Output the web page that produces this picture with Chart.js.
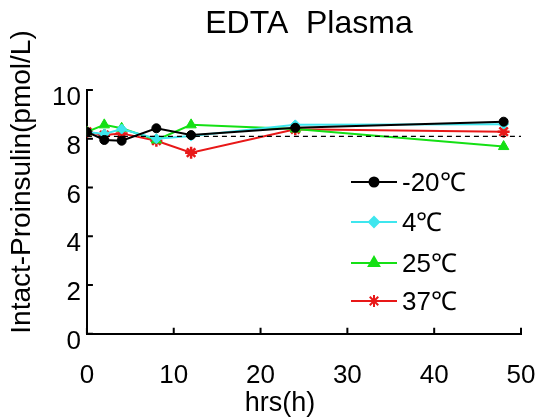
<!DOCTYPE html>
<html>
<head>
<meta charset="utf-8">
<script src="https://cdn.jsdelivr.net/npm/chart.js@4"></script>
<style>
  body { margin: 0; background: #fff; }
  #wrap { width: 545px; height: 420px; }
</style>
</head>
<body>
<div id="wrap"><canvas id="myChart" width="545" height="420"></canvas></div>
<script>
'use strict';

// sampling times (hours)
let hours = [0, 2, 4, 8, 12, 24, 48];
// series values, pmol/L
let minus20 = [8.28, 7.95, 7.92, 8.43, 8.15, 8.45, 8.70];
let plus4 = [8.28, 8.20, 8.40, 8.00, 8.11, 8.57, 8.60];
let plus25 = [8.28, 8.57, 8.43, 7.95, 8.57, 8.40, 7.68];
let plus37 = [8.28, 8.15, 8.22, 7.92, 7.43, 8.39, 8.29];
let seriesNames = ['-20℃', '4℃', '25℃', '37℃'];
let refLevel = 8.1;
let xTicks = [0, 10, 20, 30, 40, 50];
let yTicks = [0, 2, 4, 6, 8, 10];

let chartTitle = 'EDTA  Plasma';
let xTitle = 'hrs(h)';
let yTitle = 'Intact-Proinsulin(pmol/L)';

let fontName = '"Liberation Sans", Arial, sans-serif';

function toPoints(values) {
    let pts = [];
    for (let i = 0; i < hours.length; i++) {
        pts.push({ x: hours[i], y: values[i] });
    }
    return pts;
}

let colors = ['#000000', '#3ee6ee', '#14e014', '#e81818'];
let shapes = ['circle', 'rectRot', 'triangle', 'star'];
let sizes = [4.5, 5, 6, 6];
let allValues = [minus20, plus4, plus25, plus37];

let datasets = [];
for (let i = 0; i < allValues.length; i++) {
    datasets.push({
        label: seriesNames[i],
        data: toPoints(allValues[i]),
        borderColor: colors[i],
        backgroundColor: colors[i],
        pointStyle: shapes[i],
        pointRadius: sizes[i],
        pointBorderWidth: i === 3 ? 2.5 : 1,
        borderWidth: 2,
        tension: 0
    });
}
// dashed reference line
datasets.push({
    label: 'ref',
    data: [{ x: 0, y: refLevel }, { x: 50.4, y: refLevel }],
    borderColor: '#000',
    borderWidth: 1.2,
    borderDash: [5, 4],
    pointRadius: 0
});
// draw the reference first so the series sit on top
datasets.unshift(datasets.pop());

// titles, legend and inward tick marks
let extras = {
    id: 'extras',
    afterDraw(chart) {
        let ctx = chart.ctx;
        let xs = chart.scales.x;
        let ys = chart.scales.y;
        let area = chart.chartArea;
        ctx.save();
        ctx.strokeStyle = '#000';
        ctx.lineWidth = 2;
        ctx.beginPath();
        for (let v of xTicks) {
            let px = xs.getPixelForValue(v);
            ctx.moveTo(px, area.bottom);
            ctx.lineTo(px, area.bottom - 6);
        }
        for (let v of yTicks) {
            let py = ys.getPixelForValue(v);
            ctx.moveTo(area.left, py);
            ctx.lineTo(area.left + 6, py);
        }
        ctx.stroke();

        ctx.fillStyle = '#000';
        ctx.textAlign = 'center';
        ctx.textBaseline = 'middle';
        ctx.font = '32px ' + fontName;
        ctx.fillText(chartTitle, 309, 24);
        ctx.font = '27px ' + fontName;
        ctx.fillText(xTitle, 280, 404);
        ctx.save();
        ctx.translate(22, 182);
        ctx.rotate(-Math.PI / 2);
        ctx.font = '28px ' + fontName;
        ctx.fillText(yTitle, 0, 0);
        ctx.restore();

        // legend
        ctx.textAlign = 'left';
        ctx.font = '26px ' + fontName;
        let rowY = [182, 222, 263, 301];
        for (let i = 0; i < seriesNames.length; i++) {
            let ds = chart.data.datasets[i + 1];
            ctx.strokeStyle = ds.borderColor;
            ctx.lineWidth = 2;
            ctx.beginPath();
            ctx.moveTo(351, rowY[i]);
            ctx.lineTo(397, rowY[i]);
            ctx.stroke();
            Chart.helpers.drawPoint(ctx, {
                pointStyle: ds.pointStyle,
                radius: ds.pointRadius,
                rotation: 0,
                borderWidth: ds.pointBorderWidth
            }, 374, rowY[i]);
            ctx.fillStyle = ds.borderColor;
            ctx.fill();
            ctx.fillStyle = '#000';
            ctx.fillText(seriesNames[i], 402, rowY[i] + 2);
        }
        ctx.restore();
    }
};

let ctx = document.getElementById('myChart').getContext('2d');
let chart = new Chart(ctx, {
    type: 'line',
    data: { datasets: datasets },
    options: {
        responsive: false,
        animation: false,
        layout: { padding: { top: 90, left: 46, right: 24, bottom: 26 } },
        plugins: {
            legend: { display: false },
            title: { display: false },
            tooltip: { enabled: false }
        },
        scales: {
            x: {
                type: 'linear',
                min: 0,
                max: 50,
                afterBuildTicks: (axis) => { axis.ticks = xTicks.map(v => ({ value: v })); },
                grid: { display: false, drawTicks: true, tickLength: 23 },
                border: { display: true, color: '#000', width: 2 },
                ticks: { color: '#000', padding: 3, font: { family: fontName, size: 26 } }
            },
            y: {
                min: 0,
                max: 10,
                afterBuildTicks: (axis) => { axis.ticks = yTicks.map(v => ({ value: v })); },
                grid: { display: false, drawTicks: false },
                border: { display: true, color: '#000', width: 2 },
                ticks: { color: '#000', padding: 6, labelOffset: 8, font: { family: fontName, size: 26 } }
            }
        }
    },
    plugins: [extras]
});
</script>
</body>
</html>
